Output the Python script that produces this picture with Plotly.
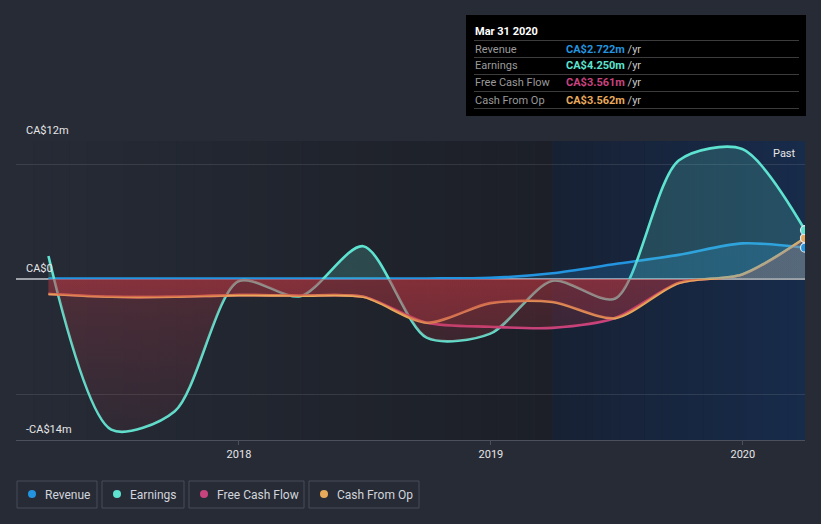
import plotly.graph_objects as go
import pandas as pd

# ---------------- data (CA$ millions, trailing twelve months) ----------------
dates = ['2017-03-31', '2017-06-30', '2017-09-30', '2017-12-31', '2018-03-31',
         '2018-06-30', '2018-09-30', '2018-12-31', '2019-03-31', '2019-06-30',
         '2019-09-30', '2019-12-31', '2020-03-31']
revenue = [0.05, 0.05, 0.05, 0.05, 0.05, 0.05, 0.05, 0.1, 0.5, 1.3, 2.1, 3.1, 2.722]
earnings = [2.0, -13.1, -11.5, -0.2, -1.5, 2.85, -5.1, -4.75, -0.15, -1.7, 10.3, 11.3, 4.25]
free_cash_flow = [-1.3, -1.55, -1.55, -1.4, -1.45, -1.55, -3.8, -4.15, -4.25, -3.4, -0.35, 0.4, 3.561]
cash_from_op = [-1.3, -1.55, -1.55, -1.4, -1.45, -1.55, -3.8, -2.1, -2.0, -3.4, -0.35, 0.4, 3.562]

series_names = ['Revenue', 'Earnings', 'Free Cash Flow', 'Cash From Op']
tooltip_values = ['CA$2.722m', 'CA$4.250m', 'CA$3.561m', 'CA$3.562m']
tooltip_title = 'Mar 31 2020'
year_ticks = ['2018-01-01', '2019-01-01', '2020-01-01']
year_labels = ['2018', '2019', '2020']
y_labels = {12: 'CA$12m', 0: 'CA$0', -14: '-CA$14m'}

# ---------------- style ----------------
BG = '#262b36'
COLORS = ['#2394df', '#5ee3d0', '#c9437f', '#e8a95b']
POS_FILL = ['rgba(35,148,223,0.22)', 'rgba(94,226,208,0.20)',
            'rgba(200,70,130,0.14)', 'rgba(232,168,90,0.14)']
SMOOTH = 0.8
Y_MIN, Y_MAX = -14, 12
X0, X1 = '2017-02-12', '2020-03-31'
SPLIT = '2019-03-31'

# plot area in pixels (for overlay elements placed in paper coords)
L, R, T, B = 16, 805, 141, 440


def px(x):
    return (x - L) / (R - L)


def py(y):
    return (B - y) / (B - T)


def hex2rgb(h):
    h = h.lstrip('#')
    return tuple(int(h[i:i + 2], 16) for i in (0, 2, 4))


def mix(c1, c2, t):
    a, b = hex2rgb(c1), hex2rgb(c2)
    return 'rgb(%d,%d,%d)' % tuple(round(a[i] + (b[i] - a[i]) * t) for i in range(3))


fig = go.Figure()

series = [revenue, earnings, free_cash_flow, cash_from_op]

# lines first
for name, vals, col in zip(series_names, series, COLORS):
    fig.add_trace(go.Scatter(
        x=dates, y=vals, mode='lines', name=name,
        line=dict(color=col, width=2.6, shape='spline', smoothing=SMOOTH),
        hoverinfo='skip'))

# fills on top of lines (translucent, red below zero, series tint above)
zf = (0 - Y_MIN) / (Y_MAX - Y_MIN)
for vals, pos in zip(series, POS_FILL):
    fig.add_trace(go.Scatter(
        x=dates, y=vals, mode='lines',
        line=dict(width=0, shape='spline', smoothing=SMOOTH),
        fill='tozeroy',
        fillgradient=dict(
            type='vertical', start=Y_MIN, stop=Y_MAX,
            colorscale=[[0, 'rgba(175,55,70,0.07)'],
                        [zf, 'rgba(195,55,65,0.27)'],
                        [zf, pos],
                        [1, pos]]),
        hoverinfo='skip', showlegend=False))

# end markers
for idx in [2, 3, 0, 1]:
    fig.add_trace(go.Scatter(
        x=[dates[-1]], y=[series[idx][-1]], mode='markers',
        marker=dict(size=9, color=COLORS[idx], line=dict(color='#dfe8f0', width=1.2)),
        hoverinfo='skip', showlegend=False))

shapes = []
# background gradients (below grid)
N = 30
t0, ts, t1 = pd.Timestamp(X0), pd.Timestamp(SPLIT), pd.Timestamp(X1)
for i in range(N):
    a = t0 + (ts - t0) * i / N
    b = t0 + (ts - t0) * (i + 1) / N
    shapes.append(dict(type='rect', xref='x', yref='y', x0=a, x1=b, y0=Y_MIN, y1=Y_MAX,
                       fillcolor=mix('#262b36', '#1c1f27', (i + 0.5) / N),
                       line=dict(width=0), layer='below'))
for i in range(N):
    a = ts + (t1 - ts) * i / N
    b = ts + (t1 - ts) * (i + 1) / N
    shapes.append(dict(type='rect', xref='x', yref='y', x0=a, x1=b, y0=Y_MIN, y1=Y_MAX,
                       fillcolor=mix('#172134', '#172b4b', (i + 0.5) / N),
                       line=dict(width=0), layer='below'))

annotations = []
# y labels
for v, txt in y_labels.items():
    annotations.append(dict(xref='paper', yref='y', x=0, y=v, xshift=8, yshift=2,
                            xanchor='left', yanchor='bottom', text=txt, showarrow=False,
                            font=dict(size=11, color='#e6e6e6')))
annotations.append(dict(xref='paper', yref='y', x=1, y=Y_MAX, xshift=-7, yshift=-4,
                        xanchor='right', yanchor='top', text='Past', showarrow=False,
                        font=dict(size=11, color='#e6e6e6')))

# tooltip box
shapes.append(dict(type='rect', xref='paper', yref='paper', x0=px(466), x1=px(806),
                   y0=py(116), y1=py(15), fillcolor='#000000', line=dict(width=0),
                   layer='above'))
annotations.append(dict(xref='paper', yref='paper', x=px(473), y=py(31), xanchor='left',
                        yanchor='middle', text='<b>%s</b>' % tooltip_title, showarrow=False,
                        font=dict(size=11, color='#ffffff')))
sep_y = [40.5, 57.5, 74.5, 91.5, 108.5]
for yy in sep_y:
    shapes.append(dict(type='line', xref='paper', yref='paper', x0=px(474), x1=px(799),
                       y0=py(yy), y1=py(yy), line=dict(color='#3c3c3c', width=1),
                       layer='above'))
for i, (nm, val, col) in enumerate(zip(series_names, tooltip_values, COLORS)):
    yc = (sep_y[i] + sep_y[i + 1]) / 2
    annotations.append(dict(xref='paper', yref='paper', x=px(473), y=py(yc), xanchor='left',
                            yanchor='middle', text=nm, showarrow=False,
                            font=dict(size=11, color='#9a9a9a')))
    annotations.append(dict(xref='paper', yref='paper', x=px(564), y=py(yc), xanchor='left',
                            yanchor='middle',
                            text='<b><span style="color:%s">%s</span></b> /yr' % (col, val),
                            showarrow=False, font=dict(size=11, color='#c8c8c8')))

# custom legend
legend_boxes = [(17, 97), (102, 184), (189, 304), (309, 419)]
for (bx0, bx1), nm, col in zip(legend_boxes, series_names, COLORS):
    shapes.append(dict(type='rect', xref='paper', yref='paper', x0=px(bx0), x1=px(bx1),
                       y0=py(508), y1=py(481), line=dict(color='#474d59', width=1),
                       fillcolor='rgba(0,0,0,0)', layer='above'))
    cx = bx0 + 15
    shapes.append(dict(type='circle', xref='paper', yref='paper', x0=px(cx - 4), x1=px(cx + 4),
                       y0=py(498), y1=py(490), fillcolor=col, line=dict(width=0),
                       layer='above'))
    annotations.append(dict(xref='paper', yref='paper', x=px(bx0 + 26), y=py(494.5),
                            xanchor='left', yanchor='middle', text=nm, showarrow=False,
                            font=dict(size=12, color='#d2d5db')))

fig.update_layout(
    width=821, height=524,
    margin=dict(l=L, r=821 - R, t=T, b=524 - B),
    paper_bgcolor=BG, plot_bgcolor=BG,
    showlegend=False,
    font=dict(family='Roboto', size=11, color='#e6e6e6'),
    shapes=shapes, annotations=annotations,
    xaxis=dict(type='date', range=[X0, X1], tickvals=year_ticks, ticktext=year_labels,
               showgrid=False, zeroline=False, showline=True, linecolor='#4b505c',
               linewidth=1, ticks='outside', ticklen=4, tickcolor='#4b505c',
               tickfont=dict(size=11, color='#e6e6e6'), fixedrange=True),
    yaxis=dict(range=[Y_MIN, Y_MAX], tickvals=[-10, 10, 12], showticklabels=False,
               showgrid=True, gridcolor='rgba(255,255,255,0.10)', gridwidth=1,
               zeroline=True, zerolinecolor='#9ea1a8', zerolinewidth=1.5,
               showline=False, ticks='', fixedrange=True),
)

fig.write_html(
    'out.html',
    config={'displayModeBar': False},
    post_script="document.body.style.margin='0';document.body.style.background='%s';" % BG,
)
